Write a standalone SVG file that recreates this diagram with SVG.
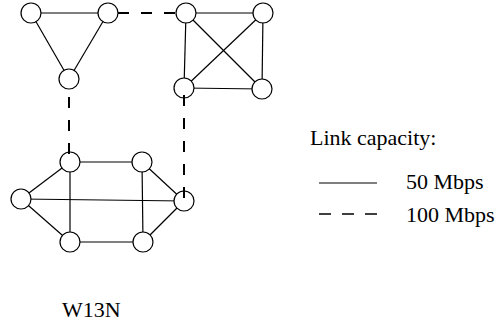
<svg xmlns="http://www.w3.org/2000/svg" width="499" height="327" viewBox="0 0 499 327">
  <style>
    .link { stroke: #000; stroke-width: 1.2; fill: none; }
    .fast { stroke: #000; stroke-width: 2; fill: none; stroke-dasharray: 11 12; }
    .node circle { fill: #fff; stroke: #000; stroke-width: 1.2; }
    text { font-family: "Liberation Serif", "Times New Roman", serif; font-size: 22px; fill: #000; }
  </style>
  <rect width="499" height="327" fill="#fff"/>

  <!-- 50 Mbps links -->
  <g id="links-50">
    <!-- triangle -->
    <line class="link" x1="31" y1="13" x2="108" y2="13"/>
    <line class="link" x1="31" y1="13" x2="69" y2="79"/>
    <line class="link" x1="108" y1="13" x2="69" y2="79"/>
    <!-- square with diagonals -->
    <line class="link" x1="186" y1="13" x2="263" y2="13"/>
    <line class="link" x1="186" y1="13" x2="184" y2="88"/>
    <line class="link" x1="263" y1="13" x2="262" y2="89"/>
    <line class="link" x1="184" y1="88" x2="262" y2="89"/>
    <line class="link" x1="186" y1="13" x2="262" y2="89"/>
    <line class="link" x1="263" y1="13" x2="184" y2="88"/>
    <!-- hexagon -->
    <line class="link" x1="70" y1="162" x2="142" y2="162"/>
    <line class="link" x1="70" y1="162" x2="21" y2="199"/>
    <line class="link" x1="70" y1="162" x2="70" y2="242"/>
    <line class="link" x1="142" y1="162" x2="184" y2="201"/>
    <line class="link" x1="142" y1="162" x2="143" y2="242"/>
    <line class="link" x1="21" y1="199" x2="184" y2="201"/>
    <line class="link" x1="21" y1="199" x2="70" y2="242"/>
    <line class="link" x1="70" y1="242" x2="143" y2="242"/>
    <line class="link" x1="143" y1="242" x2="184" y2="201"/>
  </g>

  <!-- nodes -->
  <g id="n-tri-a" class="node"><circle cx="31" cy="13" r="10"/></g>
  <g id="n-tri-b" class="node"><circle cx="108" cy="13" r="10"/></g>
  <g id="n-tri-c" class="node"><circle cx="69" cy="79" r="10"/></g>
  <g id="n-sq-a" class="node"><circle cx="186" cy="13" r="10"/></g>
  <g id="n-sq-b" class="node"><circle cx="263" cy="13" r="10"/></g>
  <g id="n-sq-c" class="node"><circle cx="184" cy="88" r="10"/></g>
  <g id="n-sq-d" class="node"><circle cx="262" cy="89" r="10"/></g>
  <g id="n-hex-a" class="node"><circle cx="70" cy="162" r="10"/></g>
  <g id="n-hex-b" class="node"><circle cx="142" cy="162" r="10"/></g>
  <g id="n-hex-c" class="node"><circle cx="21" cy="199" r="10"/></g>
  <g id="n-hex-d" class="node"><circle cx="184" cy="201" r="10"/></g>
  <g id="n-hex-e" class="node"><circle cx="70" cy="242" r="10"/></g>
  <g id="n-hex-f" class="node"><circle cx="143" cy="242" r="10"/></g>

  <!-- 100 Mbps links -->
  <g id="links-100">
    <line class="fast" x1="118" y1="13" x2="176" y2="13"/>
    <line class="fast" x1="69" y1="97" x2="69" y2="156"/>
    <line class="fast" x1="184" y1="95" x2="184" y2="202"/>
  </g>

  <!-- legend -->
  <g id="legend">
    <text x="310" y="145">Link capacity:</text>
    <line class="link" x1="319" y1="183" x2="377" y2="183"/>
    <text x="406" y="189">50 Mbps</text>
    <line class="fast" x1="319" y1="214" x2="377" y2="214" style="stroke-width:1.5;stroke-dasharray:12 11"/>
    <text x="406" y="222">100 Mbps</text>
  </g>

  <text x="62" y="317">W13N</text>
</svg>
